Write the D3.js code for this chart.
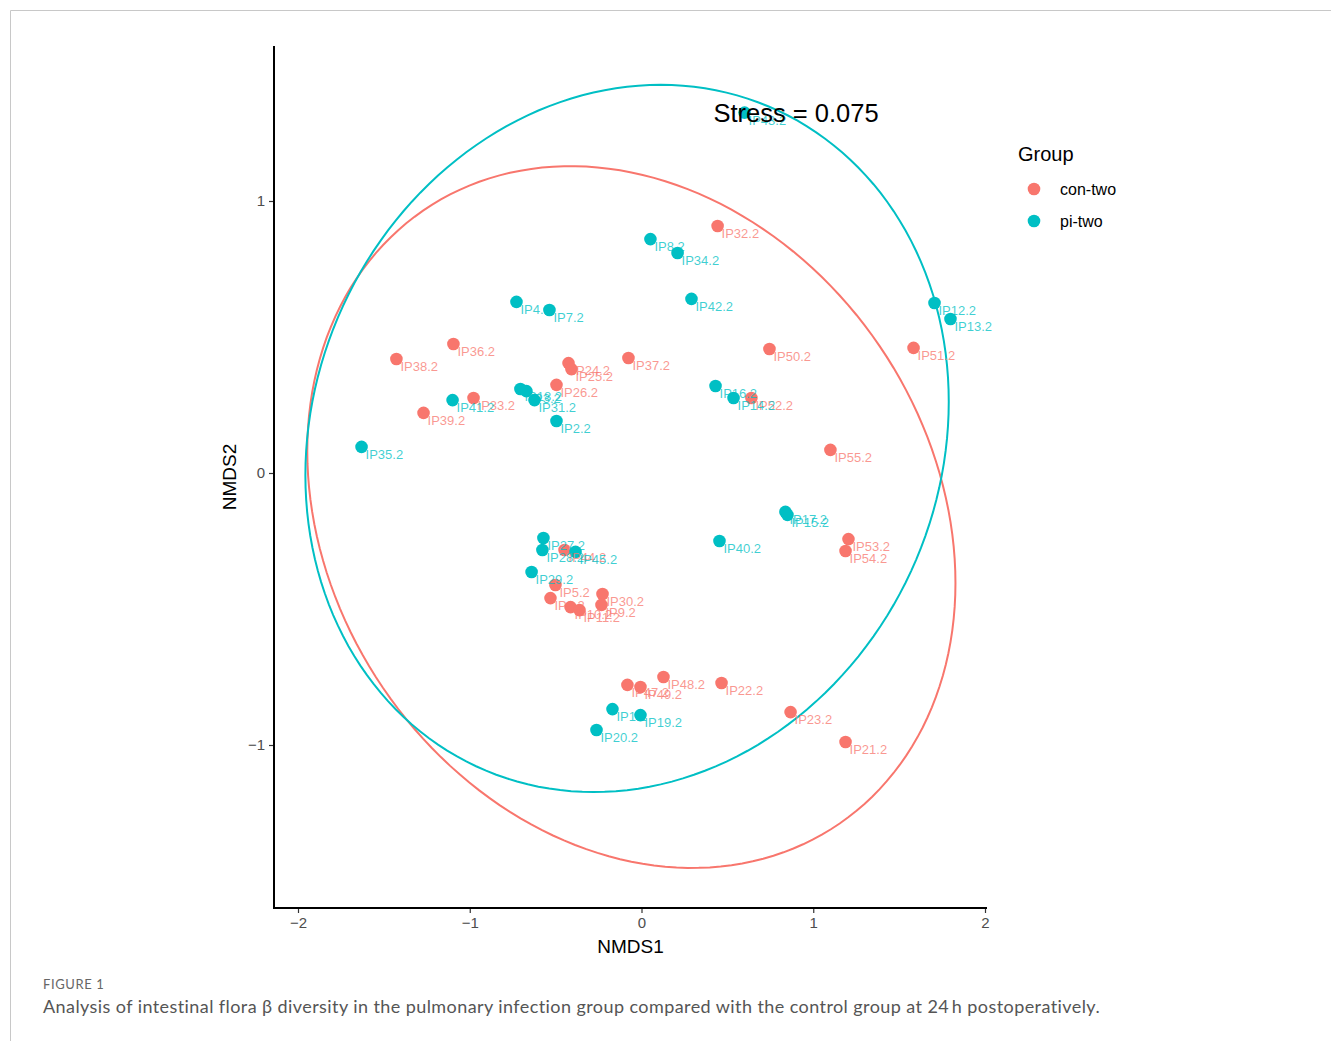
<!DOCTYPE html>
<html>
<head>
<meta charset="utf-8">
<script src="https://cdn.jsdelivr.net/npm/d3@7"></script>
<style>
  body { margin: 0; background: #fff; }
  svg { display: block; }
</style>
</head>
<body>
<svg id="chart" width="1331" height="1041"></svg>
<script>
// NMDS ordination scores, group "con-two"
const conIds = ["IP32.2","IP50.2","IP51.2","IP36.2","IP38.2","IP24.2","IP25.2","IP37.2","IP26.2","IP33.2",
                "IP39.2","IP52.2","IP55.2","IP53.2","IP54.2","IP44.2","IP5.2","IP6.2","IP10.2","IP11.2",
                "IP30.2","IP9.2","IP47.2","IP49.2","IP48.2","IP22.2","IP23.2","IP21.2"];
const conNMDS1 = [0.443,0.745,1.584,-1.095,-1.427,-0.425,-0.408,-0.076,-0.495,-0.978,
                  -1.269,0.640,1.100,1.205,1.188,-0.448,-0.501,-0.530,-0.413,-0.361,
                  -0.227,-0.233,-0.082,-0.006,0.128,0.466,0.868,1.188];
const conNMDS2 = [0.908,0.456,0.460,0.474,0.419,0.404,0.382,0.423,0.324,0.276,
                  0.221,0.276,0.085,-0.243,-0.287,-0.283,-0.412,-0.460,-0.493,-0.504,
                  -0.445,-0.485,-0.779,-0.787,-0.750,-0.772,-0.879,-0.989];

// NMDS ordination scores, group "pi-two"
const piIds = ["IP8.2","IP34.2","IP42.2","IP4.2","IP7.2","IP12.2","IP13.2","IP18.2","IP3.2","IP31.2",
               "IP41.2","IP2.2","IP35.2","IP16.2","IP14.2","IP40.2","IP17.2","IP15.2","IP27.2","IP28.2",
               "IP45.2","IP29.2","IP1.2","IP19.2","IP20.2","IP43.2"];
const piNMDS1 = [0.052,0.210,0.291,-0.728,-0.536,1.706,1.799,-0.705,-0.670,-0.623,
                 -1.100,-0.495,-1.630,0.431,0.536,0.454,0.838,0.850,-0.571,-0.577,
                 -0.384,-0.640,-0.169,-0.006,-0.262,0.600];
const piNMDS2 = [0.860,0.809,0.640,0.629,0.599,0.625,0.566,0.309,0.301,0.268,
                 0.268,0.191,0.096,0.320,0.276,-0.250,-0.143,-0.154,-0.239,-0.283,
                 -0.290,-0.364,-0.868,-0.890,-0.945,1.325];

const groups = ["con-two", "pi-two"];
const groupColors = ["#F8766D", "#00BFC4"];

// 95% confidence ellipses: centre, half-extent along each axis, correlation
const ellipseCentre = [[-0.059, -0.162], [-0.084, 0.127]];
const ellipseHalf   = [[1.887, 1.290], [1.873, 1.300]];
const ellipseRho    = [-0.188, 0.104];

const xTicks = [-2, -1, 0, 1, 2];
const yTicks = [-1, 0, 1];
const stressLabel = "Stress = 0.075";

const svg = d3.select("#chart");
const font = "'Liberation Sans', Arial, sans-serif";

// figure frame
svg.append("path")
  .attr("d", "M10.5,1041 V10.5 H1331")
  .attr("fill", "none").attr("stroke", "#c8c8c8").attr("stroke-width", 1);

const panel = { left: 274, right: 987, top: 46, bottom: 908 };
const x = d3.scaleLinear().domain([-2, 2]).range([298, 985]);
const y = d3.scaleLinear().domain([-1, 1]).range([745, 201]);

const plot = svg.append("g");

// ellipses
const ellipseLine = d3.line().x(d => x(d[0])).y(d => y(d[1]));
groups.forEach((g, i) => {
  const [cx, cy] = ellipseCentre[i];
  const [sx, sy] = ellipseHalf[i];
  const r = ellipseRho[i];
  const pts = d3.range(0, 361, 2).map(a => {
    const t = a * Math.PI / 180;
    return [cx + sx * Math.cos(t), cy + sy * (r * Math.cos(t) + Math.sqrt(1 - r * r) * Math.sin(t))];
  });
  plot.append("path")
    .attr("d", ellipseLine(pts))
    .attr("fill", "none")
    .attr("stroke", groupColors[i])
    .attr("stroke-width", 2);
});

const sets = [
  { ids: conIds, xs: conNMDS1, ys: conNMDS2 },
  { ids: piIds, xs: piNMDS1, ys: piNMDS2 }
];

// points
sets.forEach((s, i) => {
  plot.append("g").selectAll("circle")
    .data(s.ids.map((id, k) => ({ id, a: s.xs[k], b: s.ys[k] })))
    .join("circle")
    .attr("cx", d => x(d.a))
    .attr("cy", d => y(d.b))
    .attr("r", 6.3)
    .attr("fill", groupColors[i]);
});

// sample labels
sets.forEach((s, i) => {
  plot.append("g").selectAll("text")
    .data(s.ids.map((id, k) => ({ id, a: s.xs[k], b: s.ys[k] })))
    .join("text")
    .attr("x", d => x(d.a) + 4)
    .attr("y", d => y(d.b) + 12)
    .attr("font-family", font)
    .attr("font-size", 13)
    .attr("fill", groupColors[i])
    .attr("fill-opacity", 0.75)
    .text(d => d.id);
});

// stress annotation
svg.append("text")
  .attr("x", x(0.9)).attr("y", 122)
  .attr("text-anchor", "middle")
  .attr("font-family", font).attr("font-size", 25.5)
  .attr("fill", "#000")
  .text(stressLabel);

// axes
const xAxis = d3.axisBottom(x).tickValues(xTicks).tickSize(5).tickPadding(4)
  .tickFormat(d => d3.format("")(d).replace("-", "\u2212"));
const yAxis = d3.axisLeft(y).tickValues(yTicks).tickSize(5).tickPadding(4)
  .tickFormat(d => d3.format("")(d).replace("-", "\u2212"));

const gx = svg.append("g").attr("transform", `translate(0,${panel.bottom})`).call(xAxis);
const gy = svg.append("g").attr("transform", `translate(${panel.left},0)`).call(yAxis);
[gx, gy].forEach(g => {
  g.select(".domain").remove();
  g.selectAll(".tick line").attr("stroke", "#333").attr("stroke-width", 1.2);
  g.selectAll(".tick text").attr("fill", "#4d4d4d").attr("font-size", 15).attr("font-family", font);
});

svg.append("path")
  .attr("d", `M${panel.left},${panel.top} V${panel.bottom} H${panel.right}`)
  .attr("fill", "none").attr("stroke", "#000").attr("stroke-width", 2);

// axis titles
svg.append("text")
  .attr("x", (panel.left + panel.right) / 2).attr("y", 953)
  .attr("text-anchor", "middle")
  .attr("font-family", font).attr("font-size", 19)
  .text("NMDS1");
svg.append("text")
  .attr("transform", `translate(236,${(panel.top + panel.bottom) / 2}) rotate(-90)`)
  .attr("text-anchor", "middle")
  .attr("font-family", font).attr("font-size", 19)
  .text("NMDS2");

// legend
const legend = svg.append("g").attr("transform", "translate(1018,0)");
legend.append("text")
  .attr("x", 0).attr("y", 161)
  .attr("font-family", font).attr("font-size", 20)
  .text("Group");
groups.forEach((g, i) => {
  legend.append("circle")
    .attr("cx", 16).attr("cy", 189 + i * 32).attr("r", 6.3)
    .attr("fill", groupColors[i]);
  legend.append("text")
    .attr("x", 42).attr("y", 195 + i * 32)
    .attr("font-family", font).attr("font-size", 16)
    .text(g);
});

// caption
svg.append("text")
  .attr("x", 43).attr("y", 989)
  .attr("font-family", "Lato, 'Open Sans', sans-serif").attr("font-size", 13)
  .attr("letter-spacing", 0.6)
  .attr("fill", "#666")
  .text("FIGURE 1");
svg.append("text")
  .attr("x", 43).attr("y", 1013)
  .attr("font-family", "Lato, 'Open Sans', sans-serif").attr("font-size", 18)
  .attr("letter-spacing", 0.42)
  .attr("fill", "#555")
  .text("Analysis of intestinal flora \u03b2 diversity in the pulmonary infection group compared with the control group at 24\u2009h postoperatively.");
</script>
</body>
</html>
